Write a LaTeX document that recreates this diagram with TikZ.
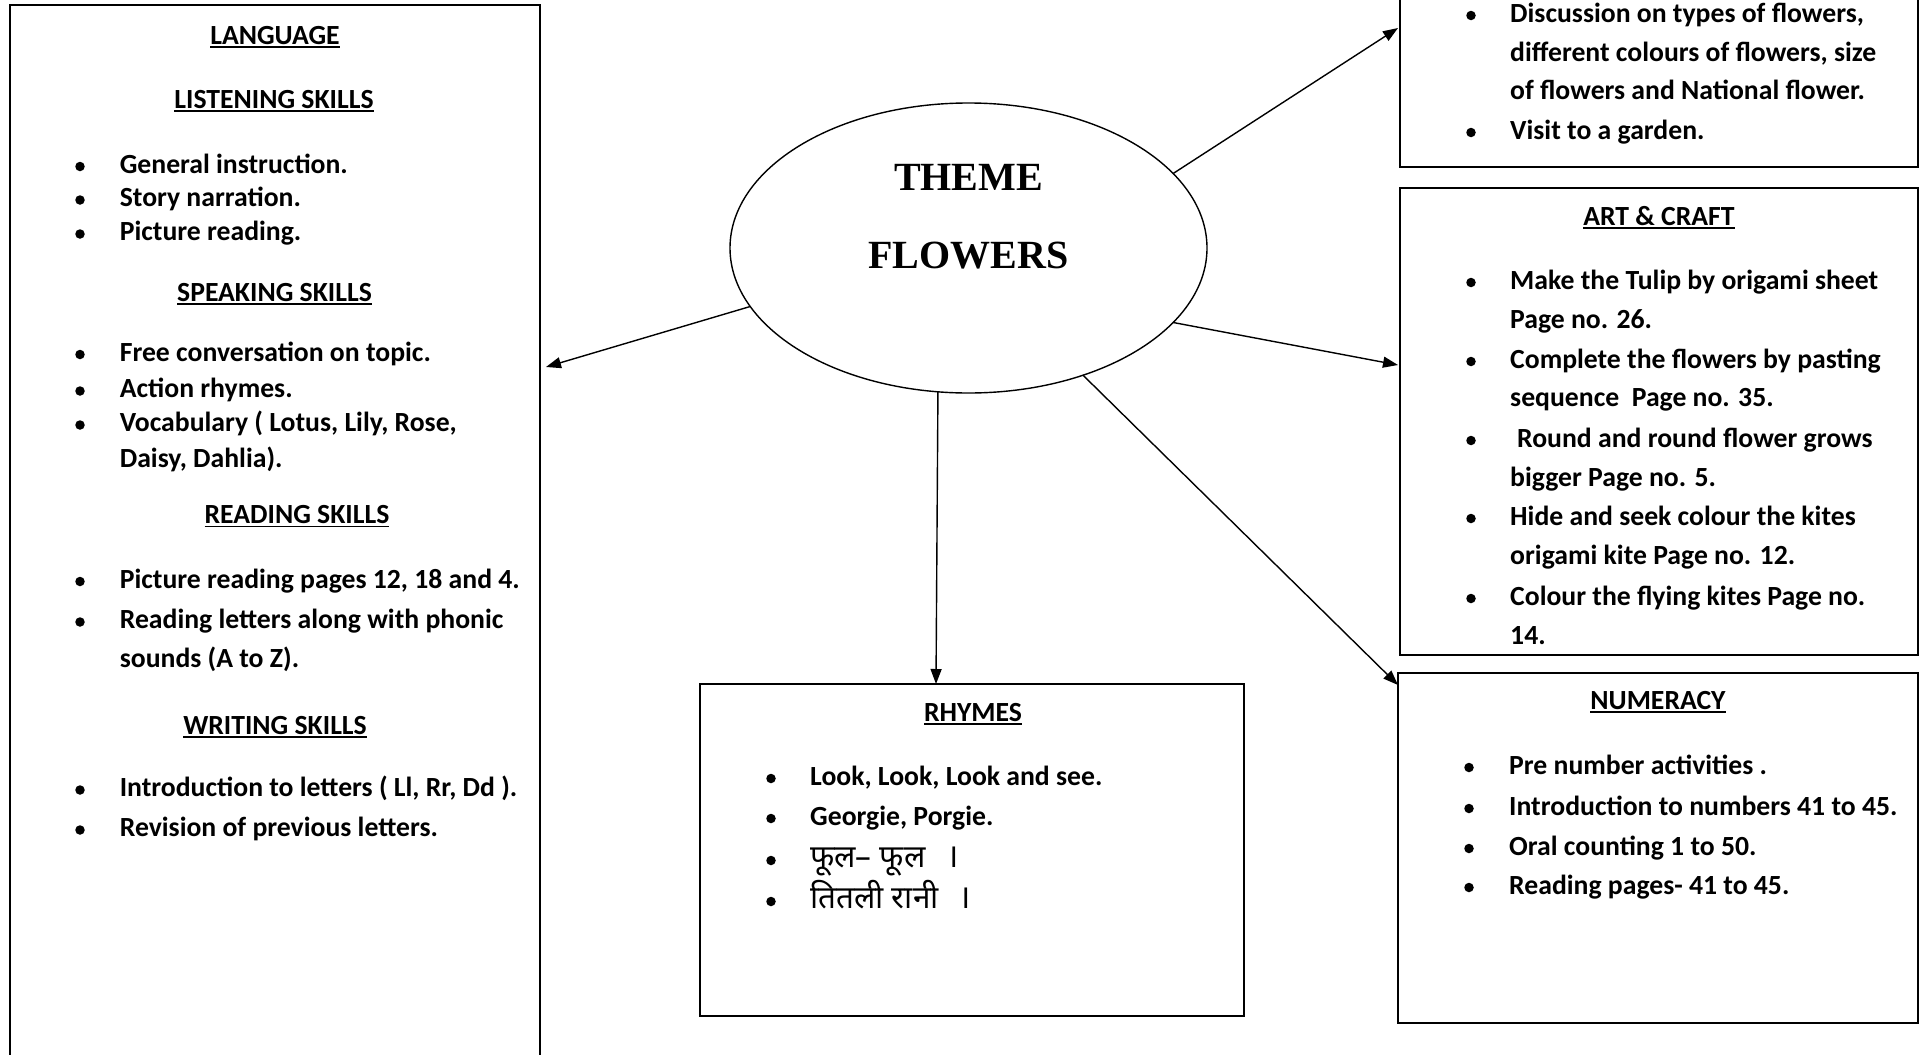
\documentclass[tikz,border=0pt]{standalone}
\usepackage{fontspec}
\setmainfont{Carlito}
\newfontfamily\tnrfont{Liberation Serif}
\newfontfamily\devafont[Script=Devanagari]{Noto Sans}
\usetikzlibrary{arrows.meta,shapes.geometric}
\newcommand\ulx[1]{\setbox0\hbox{#1}\rlap{\rule[-3.8pt]{\wd0}{1.7pt}}\box0}
\newcommand\bitem[5]{%
  \node[dot] (#1-b) at (#2,{#4-6.5}) {};
  \node[txt] (#1) at (#3,#4) {#5};}
\newcommand\contline[4]{\node[txt] (#1) at (#2,#3) {#4};}
\begin{document}
\begin{tikzpicture}[x=1pt,y=-1pt,
  box/.style={draw, line width=1.7pt, inner sep=0pt, outer sep=0pt, anchor=north west},
  txt/.style={anchor=base west, inner sep=0pt, font=\fontsize{27.7}{32}\selectfont\bfseries},
  hd/.style={anchor=base, inner sep=0pt, font=\fontsize{27.7}{32}\selectfont\bfseries},
  dev/.style={anchor=base west, inner sep=0pt, font=\devafont\fontsize{31.5}{36}\selectfont},
  danda/.style={anchor=base, inner sep=0pt, font=\devafont\fontsize{33}{36}\selectfont},
  dot/.style={circle, fill=black, inner sep=0pt, minimum size=9.5pt},
  arr/.style={-{Triangle[length=15pt,width=11pt]}, line width=1.4pt}]
\useasboundingbox (0,0) rectangle (1923,1055);
\fill[white] (0,0) rectangle (1923,1055);

% boxes
\node[box, minimum width=530pt, minimum height=1100pt] (lang) at (10,5) {};
\node[box, minimum width=518pt, minimum height=197pt] (disc) at (1400,-30) {};
\node[box, minimum width=518pt, minimum height=467pt] (art) at (1400,188) {};
\node[box, minimum width=520pt, minimum height=350pt] (num) at (1398,673) {};
\node[box, minimum width=544pt, minimum height=332pt] (rhy) at (700,684) {};

% central ellipse
\node[draw, ellipse, line width=1.4pt, minimum width=477pt, minimum height=290pt,
      inner sep=0pt, outer sep=0pt] (theme) at (968.5,248) {};
\node[anchor=base, inner sep=0pt, font=\tnrfont\fontsize{40}{44}\selectfont\bfseries] (th1) at (968.5,190) {THEME};
\node[anchor=base, inner sep=0pt, font=\tnrfont\fontsize{40}{44}\selectfont\bfseries] (th2) at (968.5,268) {FLOWERS};

% arrow tips
\coordinate (tLang) at (546,367);
\coordinate (tDisc) at (1398,28);
\coordinate (tArt) at (1398,365);
\coordinate (tNum) at (1398,685);
\coordinate (tRhy) at (936,684);
\draw[arr] (theme.195.3) -- (tLang);
\draw[arr] (theme.20.9) -- (tDisc);
\draw[arr] (theme.-20.05) -- (tArt);
\draw[arr] (theme.-48.4) -- (tNum);
\draw[arr] (theme.-102.75) -- (tRhy);

% LANGUAGE box
\node[hd] (hLang) at (275,44) {\ulx{LANGUAGE}};
\node[hd] (hList) at (274,108) {\ulx{LISTENING SKILLS}};
\bitem{l1}{80}{119.6}{173}{General instruction.}
\bitem{l2}{80}{119.6}{206.5}{Story narration.}
\bitem{l3}{80}{119.6}{240.5}{Picture reading.}
\node[hd] (hSpeak) at (274.5,301) {\ulx{SPEAKING SKILLS}};
\bitem{s1}{80}{119.6}{361}{Free conversation on topic.}
\bitem{s2}{80}{119.6}{397.5}{Action rhymes.}
\bitem{s3}{80}{119.6}{431.5}{Vocabulary ( Lotus, Lily, Rose,}
\contline{s3b}{119.6}{467}{Daisy, Dahlia).}
\node[hd] (hRead) at (297,523.5) {\ulx{READING SKILLS}};
\bitem{r1}{80}{119.6}{588}{Picture reading pages 12, 18 and 4.}
\bitem{r2}{80}{119.6}{628.5}{Reading letters along with phonic}
\contline{r2b}{119.6}{667.5}{sounds (A to Z).}
\node[hd] (hWrite) at (275,734) {\ulx{WRITING SKILLS}};
\bitem{w1}{80}{119.6}{796.5}{Introduction to letters ( Ll, Rr, Dd ).}
\bitem{w2}{80}{119.6}{836.5}{Revision of previous letters.}

% Discussion box
\bitem{d1}{1471}{1510}{22}{Discussion on types of flowers,}
\contline{d1b}{1510}{61}{different colours of flowers, size}
\contline{d1c}{1510}{99.5}{of flowers and National flower.}
\bitem{d2}{1471}{1510}{139}{Visit to a garden.}

% ART & CRAFT box
\node[hd] (hArt) at (1659,225) {\ulx{ART \& CRAFT}};
\bitem{a1}{1471}{1510}{289}{Make the Tulip by origami sheet}
\contline{a1b}{1510}{328}{Page no. 26.}
\bitem{a2}{1471}{1510}{368}{Complete the flowers by pasting}
\contline{a2b}{1510}{406}{sequence\ \ Page no. 35.}
\bitem{a3}{1471}{1517}{447}{Round and round flower grows}
\contline{a3b}{1510}{486}{bigger Page no. 5.}
\bitem{a4}{1471}{1510}{525}{Hide and seek colour the kites}
\contline{a4b}{1510}{564}{origami kite Page no. 12.}
\bitem{a5}{1471}{1510}{605}{Colour the flying kites Page no.}
\contline{a5b}{1510}{644}{14.}

% NUMERACY box
\node[hd] (hNum) at (1658,709) {\ulx{NUMERACY}};
\bitem{n1}{1469}{1509}{774}{Pre number activities .}
\bitem{n2}{1469}{1509}{815}{Introduction to numbers 41 to 45.}
\bitem{n3}{1469}{1509}{855}{Oral counting 1 to 50.}
\bitem{n4}{1469}{1509}{894}{Reading pages- 41 to 45.}

% RHYMES box
\node[hd] (hRhy) at (973,721) {\ulx{RHYMES}};
\bitem{y1}{771}{810}{785}{Look, Look, Look and see.}
\bitem{y2}{771}{810}{825}{Georgie, Porgie.}
\node[dot] (y3-b) at (771,860.5) {};
\node[dev] (y3) at (810,867) {फूल– फूल};
\node[danda] (y3d) at (953,867) {।};
\node[dot] (y4-b) at (771,901.5) {};
\node[dev] (y4) at (810,908) {तितली रानी};
\node[danda] (y4d) at (965,908) {।};
\end{tikzpicture}
\end{document}
